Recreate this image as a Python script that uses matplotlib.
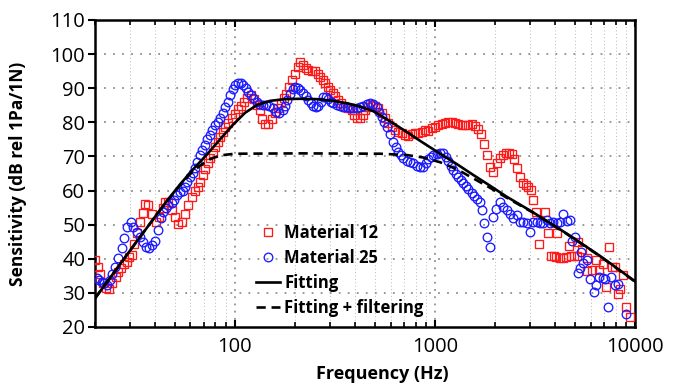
import matplotlib
matplotlib.use("Agg")
import matplotlib.pyplot as plt
from matplotlib.ticker import FixedLocator, NullFormatter, FixedFormatter

plt.rcParams['font.family'] = ['Open Sans', 'DejaVu Sans']

# Material 12 (red squares)
m12_freq = [20.0, 20.6, 21.2, 21.9, 22.7, 23.5, 24.4, 25.4, 26.2, 27.0, 27.8, 28.8, 29.7,
            30.5, 31.3, 32.3, 33.4, 34.6, 35.6, 36.9, 38.4, 40.2, 42.0, 43.5, 45.0, 46.6,
            48.7, 50.4, 52.2, 54.3, 56.2, 58.6, 60.9, 63.2, 65.2, 67.2, 69.1, 71.1, 73.2,
            75.3, 77.5, 79.8, 82.1, 84.5, 87.0, 89.5, 92.8, 96.3, 99.7, 103.2, 107.0, 111.2,
            115.5, 120.1, 124.0, 128.7, 132.9, 137.3, 141.9, 147.1, 152.9, 158.9, 165.0,
            170.2, 175.2, 180.3, 186.0, 192.5, 200.0, 205.8, 212.3, 218.8, 225.7, 233.1,
            242.4, 251.8, 259.2, 266.7, 275.1, 283.1, 290.7, 299.2, 308.7, 318.1, 328.9,
            339.6, 353.7, 369.5, 384.2, 395.9, 407.0, 422.7, 439.1, 447.7, 465.1, 483.6,
            502.3, 521.8, 542.6, 563.6, 585.5, 608.9, 632.4, 657.0, 683.2, 709.6, 737.1,
            766.5, 796.2, 827.1, 860.1, 893.4, 928.0, 965.1, 1002, 1041, 1083, 1125, 1168,
            1215, 1262, 1311, 1363, 1416, 1471, 1530, 1589, 1651, 1702, 1762, 1824, 1895,
            1962, 2035, 2106, 2180, 2257, 2337, 2424, 2497, 2585, 2667, 2751, 2848, 2934,
            3016, 3087, 3217, 3319, 3556, 3694, 3797, 3922, 4036, 4097, 4202, 4350, 4529,
            4705, 4770, 4938, 5112, 5171, 5414, 5748, 5788, 6109, 6361, 6645, 6911, 7138,
            7372, 7666, 7962, 8176, 8463, 8760, 9036, 9408]
m12_sens = [39.6, 37.5, 35.5, 33.0, 31.5, 31.1, 33.0, 34.7, 36.2, 37.2, 38.5, 39.1, 40.4,
            41.1, 44.3, 47.7, 50.7, 53.3, 56.1, 55.9, 53.2, 50.9, 52.2, 54.8, 56.7, 56.5,
            54.3, 52.3, 50.3, 50.9, 53.2, 55.8, 58.0, 59.9, 61.1, 62.6, 64.5, 66.3, 68.0,
            69.5, 71.1, 72.9, 74.3, 75.8, 77.3, 78.7, 79.9, 81.3, 82.5, 83.8, 84.9, 86.0,
            87.2, 88.0, 86.9, 85.1, 83.6, 81.0, 79.4, 79.4, 81.0, 82.6, 84.1,
            85.6, 87.0, 88.3, 90.4, 92.4, 94.3, 96.3, 97.8, 96.8, 95.8, 95.3,
            95.1, 95.1, 94.3, 93.3, 92.4, 91.4, 90.4, 89.5, 88.7, 87.7, 86.5,
            85.6, 84.6, 84.1, 83.6, 82.2, 81.3, 81.2, 82.2, 83.6, 84.6, 85.1,
            84.8, 84.1, 82.6, 81.2, 79.9, 78.7, 77.8, 77.3, 76.8, 76.3, 76.0,
            76.6, 76.8, 77.0, 77.3, 77.8, 77.6, 78.3, 78.7, 79.2, 79.5, 79.9, 80.0,
            80.2, 79.7, 79.5, 79.3, 79.2, 79.2, 79.4, 78.9, 78.0, 76.7, 73.6, 70.4, 67.0,
            65.5, 68.0, 69.5, 70.3, 70.9, 71.1, 70.7, 69.2, 66.5, 64.1, 62.3, 61.6, 61.0,
            60.2, 57.3, 53.6, 44.3, 53.8, 47.5, 40.9, 40.9, 40.5, 47.5, 40.1, 40.1, 40.6,
            43.7, 40.8, 40.9, 40.9, 44.8, 43.0, 40.1, 36.4, 36.6, 39.6, 36.7, 38.5, 31.6,
            43.5, 37.7, 37.7, 29.7, 31.2, 35.2, 25.8, 23.0]

# Material 25 (blue circles)
m25_freq = [20.4, 20.9, 21.6, 22.3, 23.0, 23.8, 24.4, 25.2, 26.2, 27.2, 28.0, 29.0, 30.2,
            31.1, 32.3, 33.4, 34.6, 35.9, 37.2, 38.4, 39.9, 41.2, 42.6, 43.9, 45.2, 46.5,
            48.4, 49.7, 51.2, 52.9, 54.9, 56.4, 57.9, 59.7, 61.6, 63.2, 64.9, 67.0, 68.8,
            71.0, 72.9, 75.2, 77.2, 79.6, 82.1, 84.3, 87.0, 89.3, 92.2, 94.6, 97.6, 100.6,
            104.1, 107.4, 110.3, 113.8, 116.8, 120.1, 123.7, 128.7, 132.6, 137.9, 143.2,
            148.8, 154.7, 160.7, 166.9, 173.6, 178.2, 183.0, 188.8, 194.7, 200.0, 206.3,
            211.8, 220.1, 227.0, 233.1, 240.4, 246.9, 254.7, 261.5, 268.8, 277.0, 285.8,
            293.5, 302.7, 310.8, 323.3, 335.7, 348.7, 362.6, 376.7, 391.3, 407.0, 422.7,
            439.1, 456.6, 474.2, 492.6, 512.3, 527.8, 542.6, 559.1, 574.8, 597.0, 620.2,
            639.8, 657.0, 677.7, 695.9, 723.6, 751.6, 780.6, 811.7, 843.3, 876.0, 903.6,
            928.0, 957.2, 982.9, 1022, 1062, 1103, 1138, 1168, 1205, 1237, 1276, 1311,
            1348, 1389, 1432, 1471, 1530, 1576, 1626, 1673, 1712, 1762, 1830, 1895, 1954,
            2030, 2111, 2193, 2288, 2377, 2469, 2568, 2667, 2770, 2881, 2982, 3108, 3233,
            3357, 3487, 3626, 3767, 3913, 4069, 4227, 4391, 4566, 4742, 4836, 5023, 5183,
            5321, 5364, 5527, 5748, 5970, 6216, 6397, 6645, 6895, 7096, 7345, 7603, 7916,
            8241, 9036]
m25_sens = [34.3, 33.8, 33.1, 32.8, 32.3, 33.8, 35.5, 37.7, 40.1, 43.1, 46.2, 49.4, 50.9,
            49.4, 47.9, 46.5, 45.0, 43.5, 43.1, 44.0, 45.2, 48.4, 51.9, 53.8, 54.8, 55.8,
            56.3, 57.2, 58.7, 59.5, 60.0, 61.1, 62.6, 64.1, 65.1, 66.5, 68.5, 70.4, 71.9,
            73.4, 75.1, 76.3, 77.8, 79.2, 80.0, 81.2, 82.6, 84.4, 86.1, 88.0, 89.7, 90.9,
            91.6, 91.4, 90.9, 90.0, 89.0, 88.0, 87.0, 86.1, 85.4, 85.1, 85.1,
            84.8, 84.1, 83.1, 82.6, 83.6, 84.8, 86.5, 88.3, 89.7, 90.3, 90.0,
            89.5, 88.7, 87.7, 86.5, 85.6, 84.8, 84.6, 84.8, 86.1, 87.4, 87.4,
            86.8, 86.1, 85.6, 85.1, 84.8, 84.6, 84.4, 84.3, 84.3, 84.3, 84.5,
            84.8, 85.4, 85.6, 85.4, 84.6, 83.1, 81.6, 80.2, 78.7, 76.6, 74.3,
            72.9, 71.4, 70.4, 69.5, 68.8, 68.3, 68.0, 67.3, 66.8, 66.8, 68.0,
            69.2, 69.9, 70.4, 70.7, 71.1, 70.9, 69.9, 68.8, 67.2, 66.0, 64.9, 64.0,
            63.0, 62.3, 61.4, 60.5, 59.3, 58.5, 57.5, 56.5, 54.3, 50.4, 46.5, 43.4, 52.3,
            54.6, 56.7, 55.3, 54.3, 53.0, 52.0, 52.9, 50.9, 50.7, 50.4, 47.8, 50.9, 50.9,
            50.4, 50.6, 51.4, 50.4, 50.8, 50.6, 50.9, 53.1, 51.2, 51.4, 45.3, 46.5, 35.7,
            37.2, 42.1, 38.8, 39.6, 34.2, 30.3, 32.3, 34.6, 34.4, 34.0, 25.9, 34.6, 32.2,
            32.6, 23.8]

# Fitting (solid)
fit_freq = [20, 25.2, 31.7, 39.9, 45.8, 53.2, 61.8, 72.6, 84.3, 97.9, 112.5, 129.1, 150.0,
            178.2, 211.8, 257.6, 309.7, 363.9, 422.7, 490.9, 597.0, 726.1, 873.0, 1062,
            1291, 1552, 1888, 2270, 3097, 4581, 6699, 10000]
fit_sens = [28.4, 36.4, 44.4, 52.3, 57.0, 61.8, 66.2, 70.6, 75.0, 79.3, 82.8, 85.1, 86.3,
            86.8, 86.9, 86.8, 86.3, 85.6, 84.6, 83.3, 80.3, 77.1, 74.0, 70.8,
            67.7, 64.6, 61.4, 58.3, 53.6, 47.3, 40.8, 33.4]

# Fitting + filtering (dashed)
filt_freq = [20, 25.2, 31.7, 39.9, 45.8, 53.2, 59.7, 67.0, 75.2, 84.3, 100.2, 211.8, 532.1,
             726.1, 873.0, 1062, 1291, 1552, 1888, 2270, 3097, 4581, 6699, 10000]
filt_sens = [28.4, 36.4, 44.4, 52.3, 57.0, 61.5, 64.8, 67.3, 69.2, 70.3, 70.8, 70.9, 70.8,
             70.4, 69.7, 68.3, 66.2, 63.6, 60.8, 58.0, 53.5, 47.2, 40.7, 33.3]

y_ticks = [20, 30, 40, 50, 60, 70, 80, 90, 100, 110]
x_ticks = [100, 1000, 10000]
x_tick_labels = ['100', '1000', '10000']

fig = plt.figure(figsize=(6.84, 3.87), dpi=100)
ax = fig.add_axes([95/684, 1-327/387, 540/684, 307/387])

ax.set_xscale('log')
ax.set_xlim(20, 10000)
ax.set_ylim(20, 110)

# grid
minor_x = [m * 10**k for k in (1, 2, 3) for m in range(2, 10) if 20 <= m * 10**k < 10000]
for xv in minor_x:
    ax.axvline(xv, color='#b8b8b8', lw=0.7, ls=(0, (1, 2.5)), zorder=0)
for xv in [100, 1000]:
    ax.axvline(xv, color='#909090', lw=1.3, ls=(0, (1, 3)), zorder=0)
for yv in y_ticks[1:-1]:
    ax.axhline(yv, color='#909090', lw=1.3, ls=(0, (1, 4)), zorder=0)

ax.plot(m12_freq, m12_sens, ls='none', marker='s', ms=5.4, mfc='none', mec='#ff1a1a',
        mew=0.95, label='Material 12', zorder=3)
ax.plot(m25_freq, m25_sens, ls='none', marker='o', ms=6.2, mfc='none', mec='#1a1aff',
        mew=0.95, label='Material 25', zorder=3)
ax.plot(fit_freq, fit_sens, color='black', lw=1.9, label='Fitting', zorder=4)
ax.plot(filt_freq, filt_sens, color='black', lw=1.9, dashes=(3.5, 2.2),
        label='Fitting + filtering', zorder=4)

ax.xaxis.set_major_locator(FixedLocator(x_ticks))
ax.xaxis.set_major_formatter(FixedFormatter(x_tick_labels))
ax.xaxis.set_minor_locator(FixedLocator(minor_x))
ax.xaxis.set_minor_formatter(NullFormatter())
ax.set_yticks(y_ticks)
ax.set_yticklabels([str(v) for v in y_ticks])

ax.tick_params(axis='x', which='both', direction='in', top=True, bottom=True,
               labelsize=14.5, pad=7, width=1.5)
ax.tick_params(axis='x', which='major', length=5)
ax.tick_params(axis='x', which='minor', length=3.5, width=1.2)
ax.tick_params(axis='y', which='both', direction='out', left=True, right=False,
               labelsize=14.5, pad=2, length=5, width=1.5)

for s in ax.spines.values():
    s.set_linewidth(1.8)

ax.set_xlabel('Frequency (Hz)', fontsize=13, fontweight='bold')
ax.set_ylabel('Sensitivity (dB rel 1Pa/1N)', fontsize=12.5, fontweight='bold')
ax.xaxis.set_label_coords(0.532, -0.125)
ax.yaxis.set_label_coords(-0.126, 0.5)

leg = ax.legend(loc='upper left', bbox_to_anchor=(0.298, 0.335), frameon=False,
                prop={'size': 12, 'weight': 'bold'}, handlelength=1.45,
                handletextpad=0.25, labelspacing=0.42, borderpad=0, borderaxespad=0)

fig.savefig('out.png', dpi=100)
